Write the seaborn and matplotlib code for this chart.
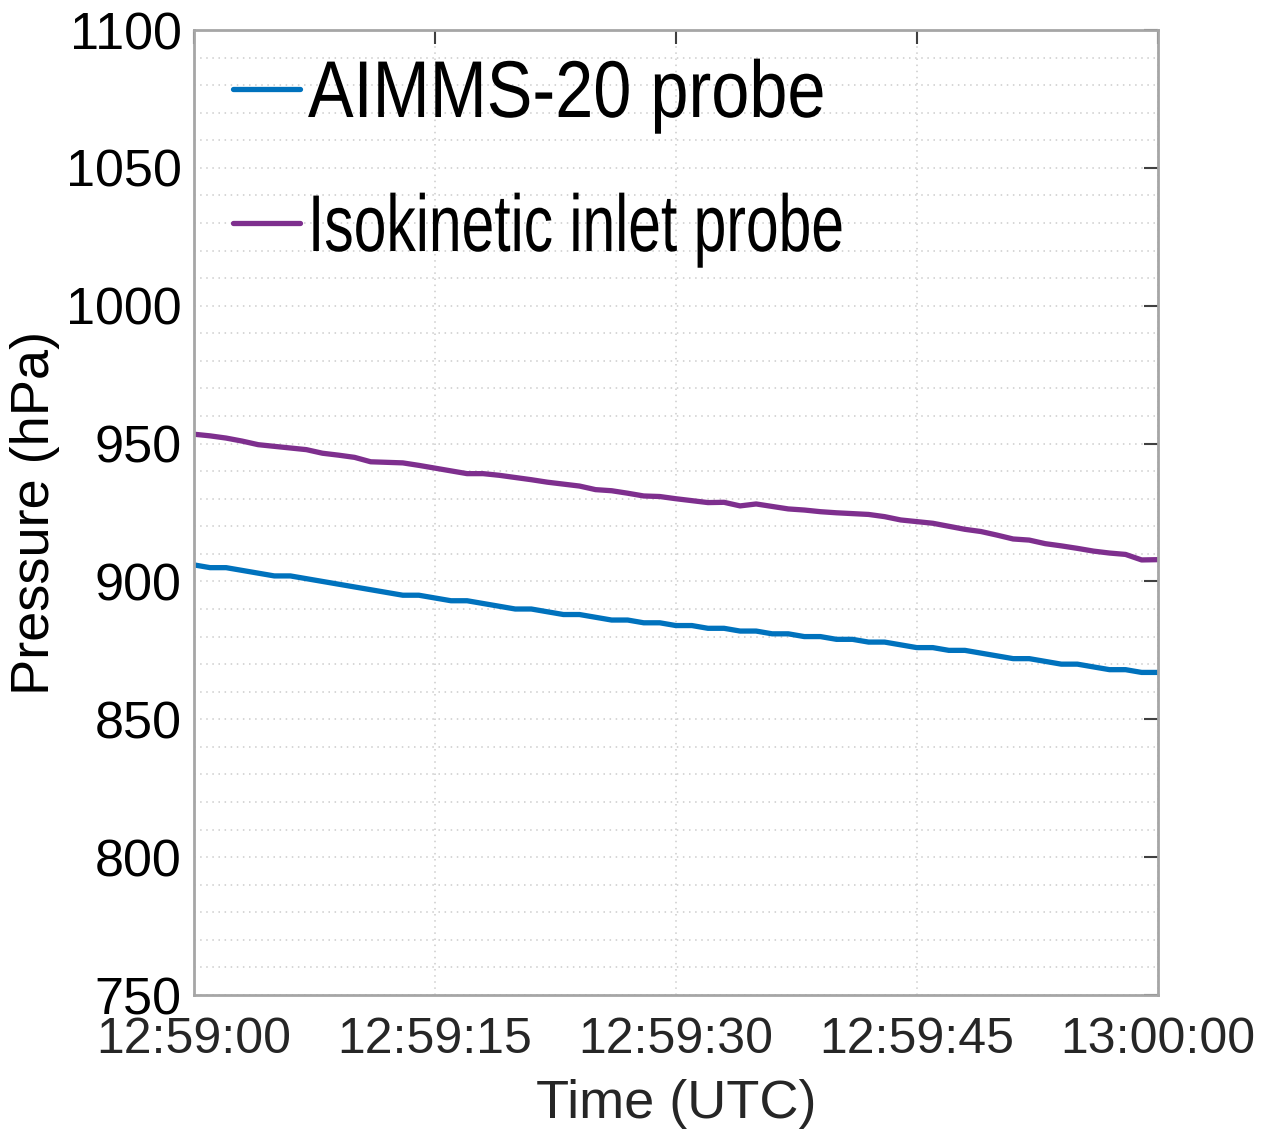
import numpy as np
import pandas as pd
import matplotlib
matplotlib.use("Agg")
import matplotlib.pyplot as plt
from matplotlib import patheffects
from matplotlib.transforms import Affine2D
from matplotlib.ticker import FixedLocator, FixedFormatter, MultipleLocator
import seaborn as sns

# Elapsed seconds from 12:59:00 UTC, sampled at 1 Hz
seconds = list(range(61))

# Static pressure (hPa) from the AIMMS-20 probe
aimms_hpa = [906, 905, 905, 904, 903, 902, 902, 901, 900, 899,
             898, 897, 896, 895, 895, 894, 893, 893, 892, 891,
             890, 890, 889, 888, 888, 887, 886, 886, 885, 885,
             884, 884, 883, 883, 882, 882, 881, 881, 880, 880,
             879, 879, 878, 878, 877, 876, 876, 875, 875, 874,
             873, 872, 872, 871, 870, 870, 869, 868, 868, 867,
             867]

# Pressure (hPa) measured at the isokinetic inlet
inlet_hpa = [953.4, 952.8, 952.0, 950.9, 949.6, 949.0, 948.4, 947.8, 946.5, 945.8,
             945.0, 943.4, 943.2, 943.0, 942.1, 941.1, 940.1, 939.1, 939.1, 938.5,
             937.7, 936.9, 936.0, 935.3, 934.6, 933.3, 932.9, 932.0, 931.0, 930.8,
             930.0, 929.3, 928.6, 928.7, 927.4, 928.1, 927.2, 926.3, 925.9, 925.3,
             924.9, 924.6, 924.3, 923.5, 922.3, 921.7, 921.1, 920.0, 918.9, 918.1,
             916.8, 915.4, 915.0, 913.7, 912.9, 912.0, 911.0, 910.3, 909.8, 907.8,
             907.9]

series_names = ["AIMMS-20 probe", "Isokinetic inlet probe"]
series_colors = ["#0072BD", "#7E2F8E"]

x_tick_pos = [0, 15, 30, 45, 60]
x_tick_labels = ["12:59:00", "12:59:15", "12:59:30", "12:59:45", "13:00:00"]
y_ticks = [750, 800, 850, 900, 950, 1000, 1050, 1100]


class HorizontalSqueeze(patheffects.AbstractPathEffect):
    """Draw text glyphs narrowed horizontally about the string's origin."""

    def __init__(self, sx):
        super().__init__()
        self.sx = sx

    def draw_path(self, renderer, gc, tpath, affine, rgbFace=None):
        x0 = affine.get_matrix()[0, 2]
        squeezed = affine + Affine2D().translate(-x0, 0).scale(self.sx, 1).translate(x0, 0)
        renderer.draw_path(gc, tpath, squeezed, rgbFace)


df = pd.DataFrame({
    "t": seconds * 2,
    "p": aimms_hpa + inlet_hpa,
    "probe": [series_names[0]] * len(seconds) + [series_names[1]] * len(seconds),
})

sns.set_style("white")
plt.rcParams["font.family"] = ["Liberation Sans", "DejaVu Sans"]

fig = plt.figure(figsize=(12.68, 11.33), dpi=100)
ax = fig.add_axes([0.153, 0.1218, 0.760, 0.8517])

sns.lineplot(data=df, x="t", y="p", hue="probe", palette=series_colors,
             linewidth=3.8, ax=ax, legend=False)

ax.set_xlim(0, 60)
ax.set_ylim(750, 1100)

ax.xaxis.set_major_locator(FixedLocator(x_tick_pos))
ax.xaxis.set_major_formatter(FixedFormatter(x_tick_labels))
ax.yaxis.set_major_locator(FixedLocator(y_ticks))
ax.yaxis.set_minor_locator(MultipleLocator(10))

ax.grid(True, which="major", axis="x", linestyle=(0, (1, 3)), color="#cccccc", linewidth=1.1)
ax.grid(True, which="both", axis="y", linestyle=(0, (1, 3)), color="#cccccc", linewidth=1.1)
ax.set_axisbelow(True)

for s in ax.spines.values():
    s.set_color("#a6a6a6")
    s.set_linewidth(2)

ax.tick_params(axis="both", which="major", direction="in", length=10, width=1.5,
               color="#404040", top=True, right=True)
ax.tick_params(axis="y", which="minor", length=0)
ax.tick_params(axis="y", which="major", labelsize=37.5, labelcolor="black", pad=9)
ax.tick_params(axis="x", which="major", labelsize=36, labelcolor="#262626", pad=16)

ax.set_xlabel("Time (UTC)", fontsize=39, color="#262626", labelpad=11)
ax.set_ylabel("Pressure (hPa)", fontsize=39, color="black", labelpad=4)

handles = [plt.Line2D([], [], color=c, linewidth=3.8) for c in series_colors]
leg = ax.legend(handles, series_names, loc="upper left", bbox_to_anchor=(0.0405, 0.971),
                frameon=False, borderpad=0, borderaxespad=0,
                handlelength=0.83, handletextpad=0.1, labelspacing=0.72,
                prop={"family": ["Liberation Sans", "DejaVu Sans"], "size": 58})
for txt, sx in zip(leg.get_texts(), [0.85, 0.73]):
    txt.set_color("black")
    txt.set_path_effects([HorizontalSqueeze(sx)])

fig.savefig("out.png", dpi=100)
